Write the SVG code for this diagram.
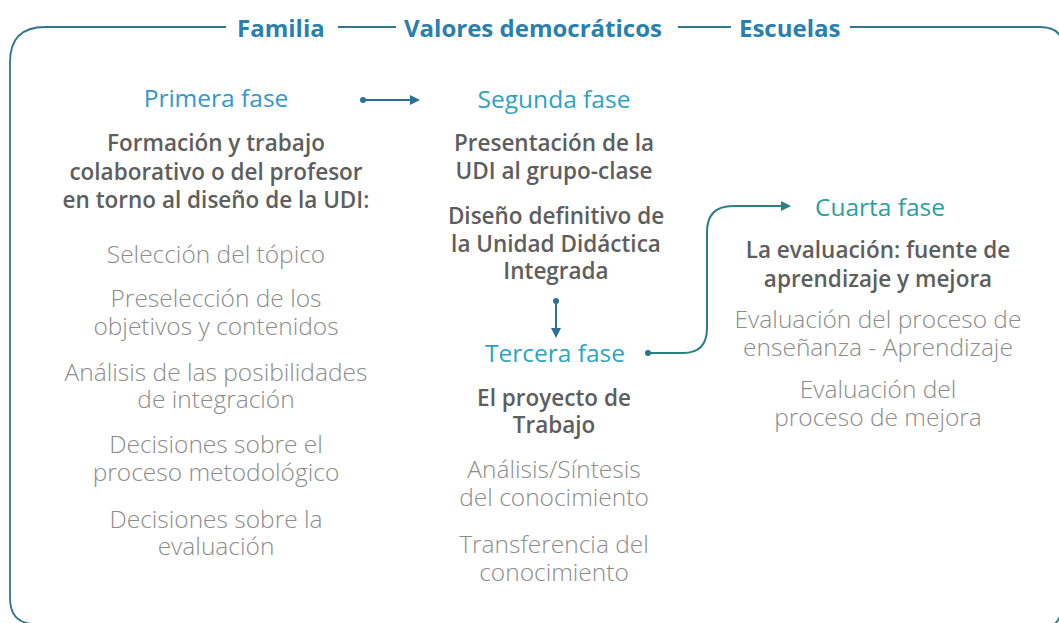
<svg xmlns="http://www.w3.org/2000/svg" width="1059" height="623" viewBox="0 0 1059 623">
<defs>
<marker id="arr" viewBox="0 0 10 10" refX="8" refY="5" markerWidth="5" markerHeight="5" orient="auto"><path d="M0,0 L10,5 L0,10 z" fill="#2d6f99"/></marker>
<marker id="arrT" viewBox="0 0 10 10" refX="8" refY="5" markerWidth="5" markerHeight="5" orient="auto"><path d="M0,0 L10,5 L0,10 z" fill="#2a7f80"/></marker>
<style>
text{font-family:"Open Sans","Noto Sans",sans-serif;text-anchor:middle;font-size:21px}
.hd{font-weight:700;font-size:24px;fill:#2780ad;text-anchor:start}
.ph{fill:#2aa3bd;font-size:24.5px}
.dk{fill:#5e5e5e;font-weight:600;font-size:22.5px}
.lt{fill:#8c8c8c;font-weight:300;font-size:24.5px}
.frame{fill:none;stroke:#2d7890;stroke-width:1.8}
.conn{fill:none;stroke:#2d6f99;stroke-width:2}
</style>
</defs>
<rect width="1059" height="623" fill="#fff"/>
<g id="frame">
<path class="frame" d="M226,27 L45,27 Q10,27 10,62 L10,598 Q10,622 32,624"/>
<path class="frame" d="M338,27 L396,27"/>
<path class="frame" d="M678,27 L731,27"/>
<path class="frame" d="M850,27 L1040,27 Q1058,27 1062,40"/>
<path class="frame" d="M1052,626 Q1058,622 1060,616"/>
<text class="hd" x="237" y="37">Familia</text>
<text class="hd" x="404" y="37">Valores democráticos</text>
<text class="hd" x="739" y="37">Escuelas</text>
</g>
<g id="connectors">
<circle cx="363" cy="100" r="3" fill="#2d6f99"/>
<path class="conn" d="M363,100 L418,100" marker-end="url(#arr)"/>
<circle cx="556" cy="301" r="3" fill="#2d6f99"/>
<path class="conn" d="M556,301 L556,336" marker-end="url(#arr)"/>
<circle cx="648" cy="353" r="3" fill="#2d6f99"/>
<path d="M648,353 L683,353 Q707,353 707,328 L707,232 Q707,206 733,206 L789,206" fill="none" stroke="#2a7f80" stroke-width="2" marker-end="url(#arrT)"/>
</g>
<g id="fase1">
<text class="ph" x="216" y="107" style="fill:#3099cc">Primera fase</text>
<text class="dk" x="216" y="151">Formación y trabajo</text>
<text class="dk" x="216" y="180">colaborativo o del profesor</text>
<text class="dk" x="216" y="208">en torno al diseño de la UDI:</text>
<text class="lt" x="216" y="263">Selección del tópico</text>
<text class="lt" x="216" y="307">Preselección de los</text>
<text class="lt" x="216" y="335">objetivos y contenidos</text>
<text class="lt" x="216" y="381">Análisis de las posibilidades</text>
<text class="lt" x="216" y="408">de integración</text>
<text class="lt" x="216" y="453">Decisiones sobre el</text>
<text class="lt" x="216" y="481">proceso metodológico</text>
<text class="lt" x="216" y="528">Decisiones sobre la</text>
<text class="lt" x="216" y="555">evaluación</text>
</g>
<g id="fase2">
<text class="ph" x="554" y="108" style="fill:#2ea3c0">Segunda fase</text>
<text class="dk" x="554" y="151">Presentación de la</text>
<text class="dk" x="554" y="179">UDI al grupo-clase</text>
<text class="dk" x="556" y="224">Diseño definitivo de</text>
<text class="dk" x="556" y="252">la Unidad Didáctica</text>
<text class="dk" x="556" y="279">Integrada</text>
</g>
<g id="fase3">
<text class="ph" x="555" y="362" style="fill:#2ba6c2">Tercera fase</text>
<text class="dk" x="554" y="406">El proyecto de</text>
<text class="dk" x="554" y="433">Trabajo</text>
<text class="lt" x="554" y="478">Análisis/Síntesis</text>
<text class="lt" x="554" y="506">del conocimiento</text>
<text class="lt" x="554" y="553">Transferencia del</text>
<text class="lt" x="554" y="581">conocimiento</text>
</g>
<g id="fase4">
<text class="ph" x="880" y="216" style="fill:#2a9fa0">Cuarta fase</text>
<text class="dk" x="878" y="258">La evaluación: fuente de</text>
<text class="dk" x="878" y="287">aprendizaje y mejora</text>
<text class="lt" x="878" y="328">Evaluación del proceso de</text>
<text class="lt" x="878" y="356">enseñanza - Aprendizaje</text>
<text class="lt" x="878" y="398">Evaluación del</text>
<text class="lt" x="878" y="426">proceso de mejora</text>
</g>
</svg>
